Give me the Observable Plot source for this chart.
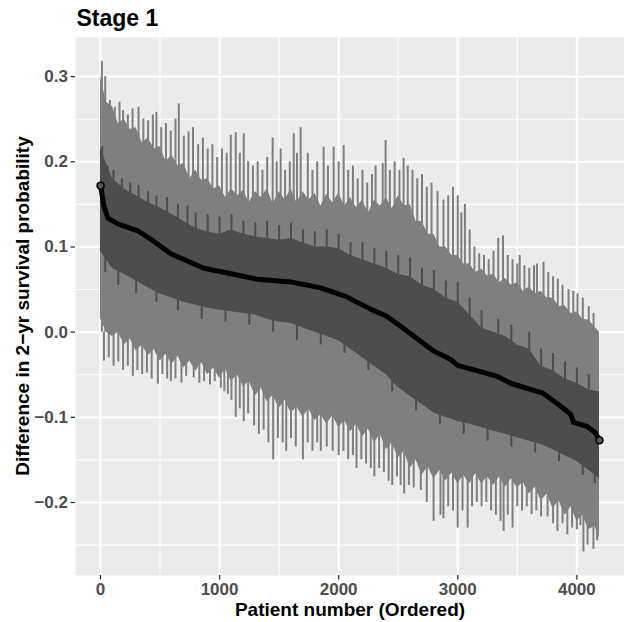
<!DOCTYPE html>
<html>
<head>
<meta charset="utf-8">
<script src="https://cdn.jsdelivr.net/npm/d3@7"></script>
<script src="https://cdn.jsdelivr.net/npm/@observablehq/plot@0.6"></script>
<style>
  html, body { margin: 0; padding: 0; background: #ffffff; }
  #chart { position: relative; width: 624px; height: 622px; }
  #chart svg text { font-weight: bold; }
  #ytitle {
    position: absolute; left: 23px; top: 306px;
    transform: translate(-50%, -50%) rotate(-90deg);
    font-family: 'Liberation Sans', Arial, Helvetica, sans-serif;
    font-weight: bold; font-size: 19px; color: #000; white-space: nowrap;
  }
</style>
</head>
<body>
<div id="chart"><div id="ytitle"></div></div>
<script>
// ---- Data ----
// outer (light) band, every 50 patients
const outerX = [0,50,100,150,200,250,300,350,400,450,500,550,600,650,700,750,800,850,900,950,1000,1050,1100,1150,1200,1250,1300,1350,1400,1450,1500,1550,1600,1650,1700,1750,1800,1850,1900,1950,2000,2050,2100,2150,2200,2250,2300,2350,2400,2450,2500,2550,2600,2650,2700,2750,2800,2850,2900,2950,3000,3050,3100,3150,3200,3250,3300,3350,3400,3450,3500,3550,3600,3650,3700,3750,3800,3850,3900,3950,4000,4050,4100,4150,4190];
const outerTop = [0.30,0.27,0.265,0.245,0.25,0.238,0.24,0.222,0.228,0.215,0.218,0.2,0.208,0.195,0.198,0.18,0.19,0.178,0.18,0.168,0.172,0.158,0.168,0.16,0.166,0.152,0.165,0.158,0.168,0.15,0.165,0.155,0.168,0.152,0.165,0.155,0.163,0.148,0.162,0.152,0.163,0.148,0.158,0.146,0.155,0.14,0.155,0.148,0.158,0.145,0.16,0.148,0.15,0.13,0.13,0.115,0.115,0.10,0.10,0.09,0.09,0.08,0.08,0.07,0.074,0.066,0.068,0.058,0.063,0.055,0.058,0.048,0.053,0.045,0.048,0.04,0.04,0.03,0.031,0.022,0.024,0.015,0.014,0.006,0.0];
const outerBottom = [0.016,0.0,-0.005,0.0,-0.015,-0.008,-0.022,-0.015,-0.028,-0.02,-0.034,-0.026,-0.038,-0.028,-0.042,-0.034,-0.046,-0.036,-0.05,-0.042,-0.054,-0.044,-0.058,-0.05,-0.064,-0.058,-0.075,-0.066,-0.082,-0.074,-0.09,-0.08,-0.095,-0.088,-0.10,-0.09,-0.104,-0.097,-0.108,-0.098,-0.112,-0.104,-0.117,-0.108,-0.123,-0.114,-0.13,-0.12,-0.138,-0.13,-0.148,-0.14,-0.16,-0.15,-0.168,-0.158,-0.172,-0.162,-0.175,-0.165,-0.178,-0.168,-0.178,-0.166,-0.178,-0.17,-0.18,-0.17,-0.182,-0.172,-0.183,-0.176,-0.19,-0.182,-0.198,-0.19,-0.207,-0.198,-0.215,-0.205,-0.222,-0.215,-0.232,-0.228,-0.242];

// inner (dark) band, every 100 patients
const innerX = [0,100,200,300,400,500,600,700,800,900,1000,1100,1200,1300,1400,1500,1600,1700,1800,1900,2000,2100,2200,2300,2400,2500,2600,2700,2800,2900,3000,3100,3200,3300,3400,3500,3600,3700,3800,3900,4000,4100,4190];
const innerTop = [0.216,0.18,0.168,0.16,0.152,0.146,0.138,0.13,0.122,0.118,0.115,0.12,0.115,0.112,0.11,0.108,0.11,0.105,0.10,0.10,0.098,0.09,0.085,0.08,0.075,0.068,0.065,0.055,0.05,0.04,0.035,0.02,0.005,0.0,-0.005,-0.015,-0.02,-0.04,-0.045,-0.055,-0.06,-0.068,-0.07];
const innerBottom = [0.095,0.075,0.068,0.06,0.052,0.045,0.04,0.035,0.032,0.028,0.026,0.024,0.022,0.02,0.015,0.012,0.01,0.005,0.0,-0.005,-0.01,-0.02,-0.03,-0.04,-0.05,-0.065,-0.075,-0.085,-0.095,-0.1,-0.105,-0.108,-0.112,-0.116,-0.12,-0.124,-0.128,-0.132,-0.138,-0.145,-0.152,-0.162,-0.172];

// single-patient spikes that stick out of the light band
const spikeUpX = [12,40,80,120,160,190,230,270,320,360,400,440,470,510,550,590,630,658,700,740,777,820,860,900,940,980,1020,1060,1094,1136,1170,1203,1240,1280,1320,1360,1400,1446,1480,1513,1550,1590,1623,1650,1681,1741,1780,1820,1874,1910,1958,2000,2042,2080,2120,2160,2200,2240,2280,2310,2370,2394,2430,2470,2510,2545,2580,2620,2660,2700,2740,2780,2830,2880,2920,2960,3000,3030,3060,3100,3140,3180,3220,3260,3300,3340,3380,3420,3460,3500,3520,3560,3600,3640,3665,3720,3760,3800,3840,3880,3930,3970,4005,4050,4100,4140];
const spikeUpY = [0.318,0.30,0.272,0.264,0.27,0.26,0.255,0.262,0.264,0.25,0.248,0.255,0.258,0.24,0.245,0.236,0.25,0.268,0.23,0.235,0.24,0.22,0.228,0.215,0.22,0.205,0.215,0.21,0.231,0.234,0.21,0.233,0.2,0.195,0.2,0.19,0.205,0.228,0.2,0.215,0.19,0.2,0.233,0.21,0.24,0.21,0.19,0.2,0.217,0.195,0.217,0.2,0.219,0.19,0.195,0.18,0.19,0.175,0.185,0.195,0.198,0.225,0.19,0.2,0.19,0.204,0.195,0.19,0.18,0.185,0.17,0.175,0.165,0.155,0.16,0.17,0.16,0.14,0.15,0.12,0.10,0.092,0.09,0.085,0.095,0.11,0.113,0.09,0.085,0.08,0.09,0.078,0.075,0.078,0.08,0.082,0.07,0.065,0.062,0.055,0.05,0.048,0.045,0.04,0.03,0.022];
const spikeDownX = [29,70,110,150,190,230,272,310,350,390,430,482,520,560,591,630,680,720,783,830,870,920,960,1010,1040,1070,1100,1136,1170,1203,1240,1290,1330,1370,1410,1450,1490,1530,1560,1600,1640,1700,1740,1780,1820,1850,1900,1950,2000,2040,2080,2120,2150,2190,2230,2270,2300,2340,2380,2420,2450,2490,2520,2550,2590,2630,2690,2740,2797,2855,2880,2920,2960,2999,3040,3083,3120,3160,3200,3240,3280,3320,3359,3385,3420,3460,3500,3540,3580,3620,3660,3700,3754,3800,3837,3880,3920,3960,4000,4030,4055,4090,4139,4170];
const spikeDownY = [-0.034,-0.03,-0.04,-0.035,-0.045,-0.04,-0.052,-0.045,-0.05,-0.048,-0.055,-0.061,-0.05,-0.055,-0.058,-0.055,-0.06,-0.052,-0.054,-0.06,-0.058,-0.062,-0.058,-0.066,-0.07,-0.073,-0.08,-0.1,-0.09,-0.105,-0.096,-0.11,-0.12,-0.115,-0.13,-0.15,-0.125,-0.13,-0.14,-0.125,-0.135,-0.15,-0.13,-0.14,-0.13,-0.14,-0.135,-0.14,-0.145,-0.14,-0.15,-0.145,-0.16,-0.15,-0.155,-0.16,-0.17,-0.16,-0.165,-0.175,-0.18,-0.17,-0.18,-0.19,-0.18,-0.183,-0.186,-0.2,-0.222,-0.215,-0.219,-0.205,-0.21,-0.23,-0.21,-0.23,-0.205,-0.2,-0.205,-0.2,-0.21,-0.215,-0.222,-0.234,-0.215,-0.23,-0.205,-0.21,-0.205,-0.214,-0.21,-0.217,-0.217,-0.225,-0.234,-0.225,-0.238,-0.23,-0.232,-0.227,-0.258,-0.25,-0.255,-0.245];

// spikes that stick out of the dark band
const innerUpX = [15,60,110,180,250,320,400,470,560,650,730,800,900,1000,1100,1200,1300,1400,1500,1600,1700,1800,1900,2000,2100,2200,2300,2400,2500,2600,2700,2800,2900,3000,3100,3200,3340,3450,3600,3700,3800,3900,4000,4100];
const innerUpY = [0.218,0.195,0.19,0.18,0.175,0.172,0.165,0.16,0.158,0.15,0.148,0.14,0.138,0.135,0.138,0.13,0.128,0.13,0.125,0.128,0.12,0.118,0.12,0.115,0.105,0.105,0.098,0.095,0.09,0.087,0.075,0.072,0.06,0.058,0.04,0.025,0.015,0.008,0.0,-0.02,-0.025,-0.035,-0.042,-0.05];
const innerDownX = [40,150,300,470,650,850,1050,1250,1450,1650,1850,2050,2250,2450,2650,2850,3050,3250,3450,3650,3850,4050,4150];
const innerDownY = [0.07,0.055,0.045,0.035,0.025,0.015,0.012,0.008,0.0,-0.01,-0.015,-0.025,-0.045,-0.07,-0.092,-0.108,-0.12,-0.128,-0.135,-0.142,-0.152,-0.168,-0.178];

// point estimate (ordered)
const estX = [1,29,62,146,314,423,591,868,1119,1320,1597,1849,2059,2268,2400,2520,2797,2940,2999,3334,3443,3719,3837,3946,3972,4089,4156,4190];
const estY = [0.172,0.148,0.134,0.127,0.119,0.109,0.092,0.075,0.068,0.062,0.059,0.052,0.042,0.027,0.019,0.007,-0.022,-0.032,-0.039,-0.052,-0.06,-0.072,-0.084,-0.096,-0.106,-0.111,-0.118,-0.127];

const xTicks = [0,1000,2000,3000,4000];
const xMinor = [500,1500,2500,3500];
const yTicks = [-0.2,-0.1,0,0.1,0.2,0.3];
const yMinor = [-0.25,-0.15,-0.05,0.05,0.15,0.25];

const titleText = "Stage 1";
const xTitle = "Patient number (Ordered)";
const yTitle = "Difference in 2\u2212yr survival probability";

// ---- Tables ----
function interp(xs, ys, x) {
  const i = Math.max(1, Math.min(xs.length - 1, d3.bisectLeft(xs, x)));
  const t = (x - xs[i - 1]) / (xs[i] - xs[i - 1]);
  return ys[i - 1] + t * (ys[i] - ys[i - 1]);
}
const outer = outerX.map((x, i) => ({x, top: outerTop[i], bot: outerBottom[i]}));
const inner = innerX.map((x, i) => ({x, top: innerTop[i], bot: innerBottom[i]}));
const up = spikeUpX.map((x, i) => ({x, y: spikeUpY[i]}));
const down = spikeDownX.map((x, i) => ({x, y: spikeDownY[i]}));
const iUp = innerUpX.map((x, i) => ({x, y: innerUpY[i], base: interp(estX, estY, x)}));
const iDown = innerDownX.map((x, i) => ({x, y: innerDownY[i], base: interp(estX, estY, x)}));
const est = estX.map((x, i) => ({x, y: estY[i]}));
const ends = [est[0], est[est.length - 1]];

const LIGHT = "#7F7F7F", DARK = "#4D4D4D";

const chart = Plot.plot({
  width: 624,
  height: 622,
  marginLeft: 75,
  marginRight: 0,
  marginTop: 37,
  marginBottom: 47,
  x: {domain: [-209.5, 4400], axis: null},
  y: {domain: [-0.2857, 0.3459], axis: null},
  style: {fontFamily: "'Liberation Sans', Arial, Helvetica, sans-serif", background: "#ffffff", overflow: "visible"},
  marks: [
    Plot.frame({fill: "#EBEBEB", stroke: null}),
    Plot.gridY(yMinor, {stroke: "#ffffff", strokeOpacity: 1, strokeWidth: 1.1}),
    Plot.gridX(xMinor, {stroke: "#ffffff", strokeOpacity: 1, strokeWidth: 1.1}),
    Plot.gridY(yTicks, {stroke: "#ffffff", strokeOpacity: 1, strokeWidth: 2.2}),
    Plot.gridX(xTicks, {stroke: "#ffffff", strokeOpacity: 1, strokeWidth: 2.2}),
    Plot.ruleX(up, {x: "x", y1: 0, y2: "y", stroke: LIGHT, strokeWidth: 2}),
    Plot.ruleX(down, {x: "x", y1: 0, y2: "y", stroke: LIGHT, strokeWidth: 2}),
    Plot.areaY(outer, {x: "x", y1: "bot", y2: "top", fill: LIGHT}),
    Plot.ruleX(iUp, {x: "x", y1: "base", y2: "y", stroke: DARK, strokeWidth: 2}),
    Plot.ruleX(iDown, {x: "x", y1: "base", y2: "y", stroke: DARK, strokeWidth: 2}),
    Plot.areaY(inner, {x: "x", y1: "bot", y2: "top", fill: DARK}),
    Plot.line(est, {x: "x", y: "y", stroke: "#000000", strokeWidth: 5, strokeLinejoin: "round", strokeLinecap: "round"}),
    Plot.dot(ends, {x: "x", y: "y", r: 3.5, fill: "#555555", stroke: "#000000", strokeWidth: 1.5}),
    Plot.axisX(xTicks, {tickSize: 4.5, tickPadding: 3, fontSize: 17, fill: "#4D4D4D", stroke: "#333333", strokeWidth: 1.3, label: null, tickFormat: d3.format("d")}),
    Plot.axisY(yTicks, {tickSize: 4.5, tickPadding: 3, fontSize: 17, fill: "#4D4D4D", stroke: "#333333", strokeWidth: 1.3, label: null, tickFormat: d3.format(".1f")}),
    Plot.text([xTitle], {frameAnchor: "bottom", dy: 34, fontSize: 19, fill: "#000000", lineAnchor: "middle"}),
    Plot.text([titleText], {frameAnchor: "top-left", dx: 1, dy: -19, fontSize: 23, fill: "#000000", textAnchor: "start", lineAnchor: "middle"})
  ]
});
document.getElementById("chart").appendChild(chart);
document.getElementById("ytitle").textContent = yTitle;
</script>
</body>
</html>
